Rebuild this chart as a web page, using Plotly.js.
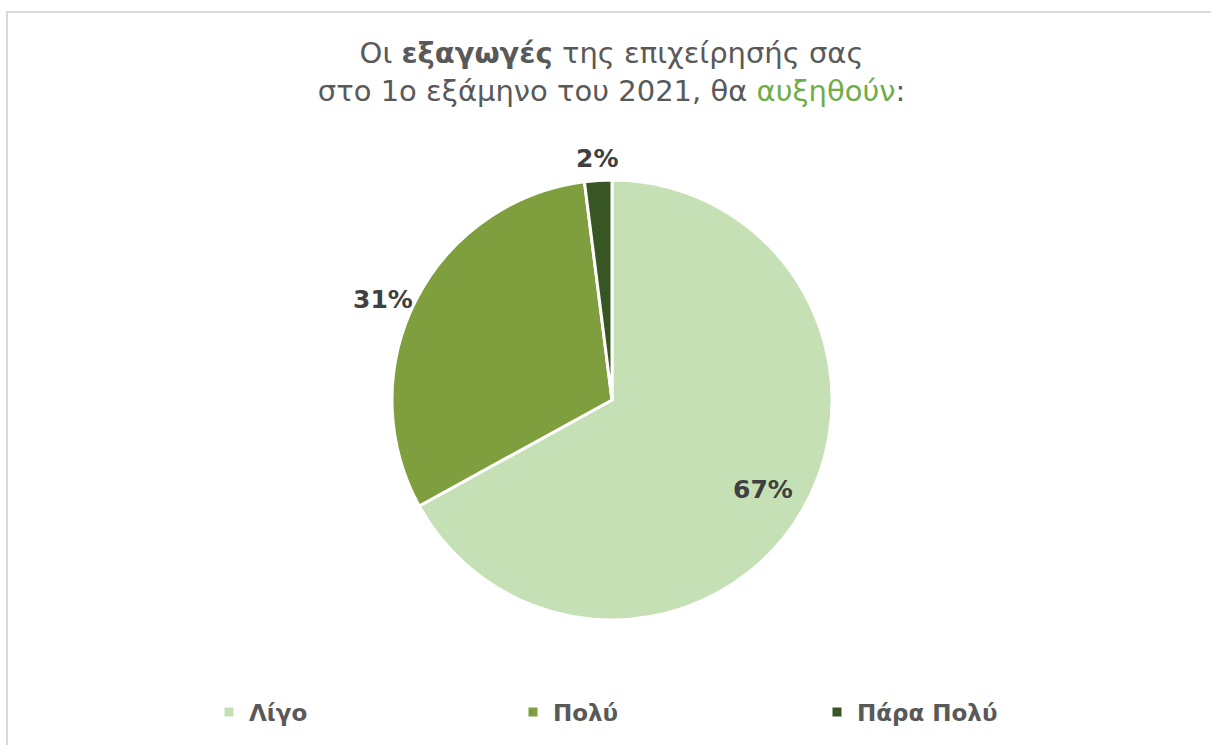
<!DOCTYPE html>
<html>
<head>
<meta charset="utf-8">
<script src="https://cdn.plot.ly/plotly-3.0.1.min.js"></script>
<style>
  html, body { margin: 0; padding: 0; background: #ffffff; }
  #chart { width: 1211px; height: 745px; }
</style>
</head>
<body>
<div id="chart"></div>
<script>
// categories and shares (%)
const labels = ["Λίγο", "Πολύ", "Πάρα Πολύ"];
const values = [67, 31, 2];
const sliceColors = ["#C5E0B4", "#7F9F3F", "#375623"];
// how far from the centre each data label sits (fraction of radius)
const labelRadius = [0.8, 1.17, 1.1];

const W = 1211, H = 745;
// pie centre (612, 400), radius 220 px
const cx = 612, cy = 400, r = 220;

const labelFont = { family: "DejaVu Sans, sans-serif", size: 25, color: "#404040", weight: "bold" };

const trace = {
    type: "pie",
    labels: labels,
    values: values,
    sort: false,
    direction: "clockwise",
    rotation: 0,
    hole: 0,
    textinfo: "none",
    marker: {
        colors: sliceColors,
        line: { color: "#ffffff", width: 3 }
    },
    domain: {
        x: [(cx - r) / W, (cx + r) / W],
        y: [(H - cy - r) / H, (H - cy + r) / H]
    },
    hoverinfo: "label+percent"
};

// data labels placed at each slice's mid angle (clockwise from 12 o'clock)
const total = values.reduce((a, b) => a + b, 0);
const annotations = [];
let cum = 0;
values.forEach((v, i) => {
    const mid = (cum + v / 2) / total * 2 * Math.PI;
    cum += v;
    const d = r * labelRadius[i];
    annotations.push({
        xref: "paper", yref: "paper",
        x: (cx + Math.sin(mid) * d) / W,
        y: (H - cy + Math.cos(mid) * d) / H,
        text: Math.round(v / total * 100) + "%",
        showarrow: false,
        xanchor: "center",
        yanchor: i === 1 ? "top" : "middle",
        font: labelFont
    });
});

const layout = {
    width: W,
    height: H,
    paper_bgcolor: "#ffffff",
    margin: { t: 0, l: 0, r: 0, b: 0 },
    font: { family: "DejaVu Sans, sans-serif", color: "#595959" },
    title: {
        text: "Οι <b>εξαγωγές</b> της επιχείρησής σας<br>στο 1ο εξάμηνο του 2021, θα <span style='color:#70AD47'>αυξηθούν</span>:",
        font: { size: 29, color: "#595959" },
        x: 0.505,
        xanchor: "center",
        y: 1 - 63 / H,
        yanchor: "middle"
    },
    showlegend: true,
    legend: {
        orientation: "h",
        x: 209 / W,
        xanchor: "left",
        y: (H - 712) / H,
        yanchor: "middle",
        entrywidth: 259,
        entrywidthmode: "pixels",
        font: { size: 23, color: "#595959", weight: "bold" },
        itemclick: false
    },
    annotations: annotations,
    shapes: [{
        type: "rect",
        xref: "paper", yref: "paper",
        x0: 7 / W, x1: 1.05,
        y0: -0.05, y1: (H - 12) / H,
        line: { color: "#D9D9D9", width: 2 },
        fillcolor: "rgba(0,0,0,0)"
    }]
};

Plotly.newPlot("chart", [trace], layout, { displayModeBar: false, responsive: false });
</script>
</body>
</html>
